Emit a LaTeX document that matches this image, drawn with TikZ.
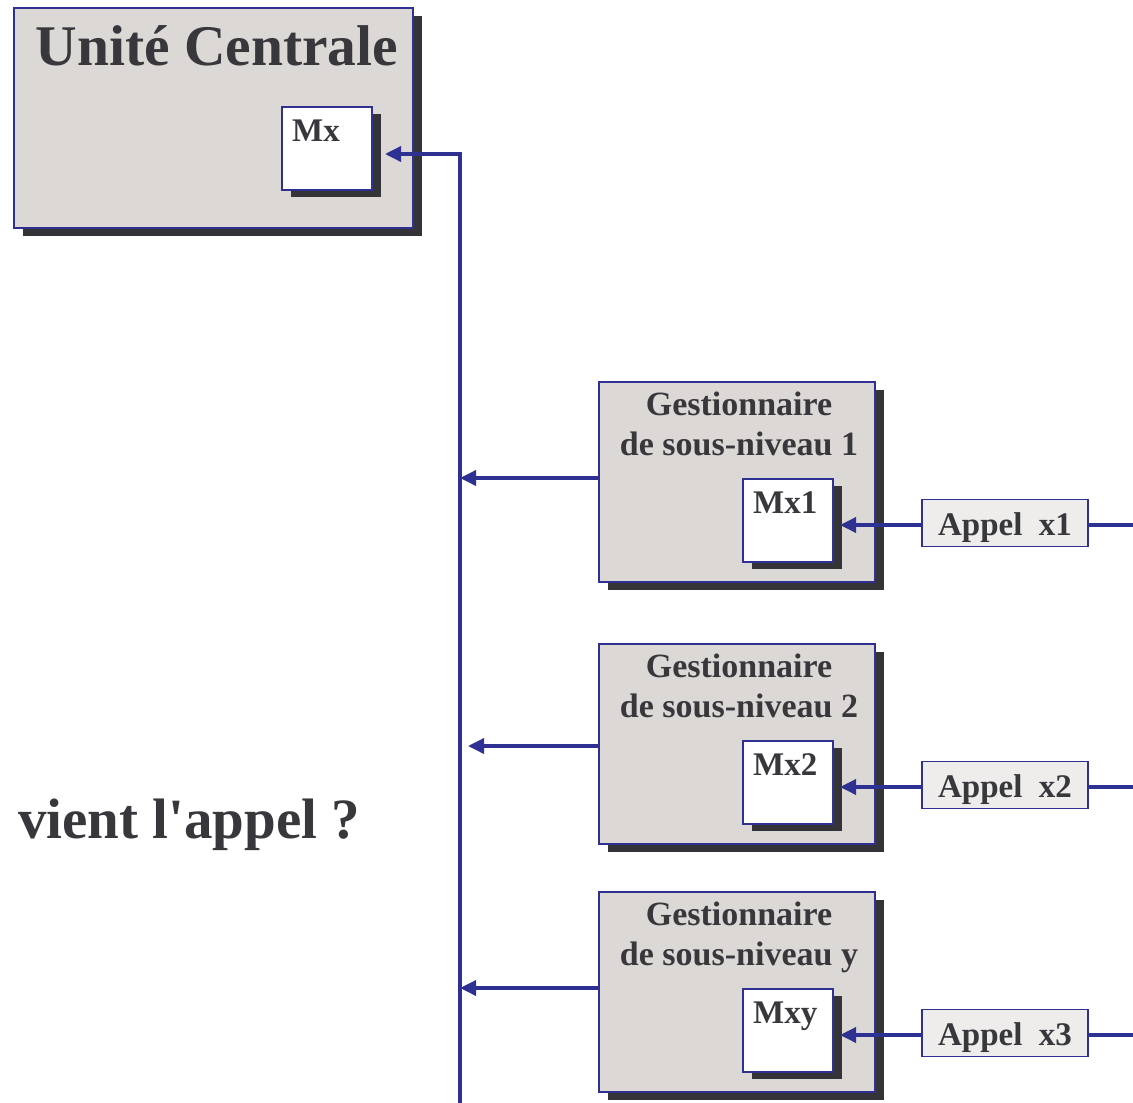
\documentclass[tikz,border=0pt]{standalone}
\usepackage{fontspec}
\setmainfont{Liberation Serif}
\usetikzlibrary{arrows.meta,shadows}
\definecolor{bord}{HTML}{2E3192}
\definecolor{fillg}{HTML}{DCD8D5}
\definecolor{shad}{HTML}{343338}
\definecolor{txt}{HTML}{38373C}
\definecolor{appfill}{HTML}{EEEDEC}
\tikzset{
  shd/.style={drop shadow={shadow xshift=9pt,shadow yshift=-8pt,fill=shad,opacity=1}},
  bigbox/.style={draw=bord,line width=1.5pt,fill=fillg,anchor=north west,inner sep=0pt,shd},
  mbox/.style={draw=bord,line width=1.5pt,fill=white,anchor=north west,inner sep=0pt,
    minimum width=90pt,minimum height=83pt,
    drop shadow={shadow xshift=9pt,shadow yshift=-7pt,fill=shad,opacity=1}},
  mlabel/.style={text=txt,font=\bfseries\fontsize{33}{36}\selectfont,anchor=base west,inner sep=0pt},
  glabel/.style={text=txt,font=\bfseries\fontsize{34}{40}\selectfont,align=center,anchor=north,inner sep=0pt},
  appbox/.style={draw=bord,line width=1.5pt,fill=appfill,minimum width=166pt,minimum height=47pt,
    inner sep=0pt,text=txt,text height=28pt,text depth=3pt,font=\bfseries\fontsize{33}{36}\selectfont},
  conn/.style={draw=bord,line width=3.5pt,-{Triangle[length=16pt,width=15pt]}},
  plain/.style={draw=bord,line width=3.5pt},
}
\begin{document}
\begin{tikzpicture}[x=1pt,y=-1pt]
\useasboundingbox (0,0) rectangle (1133,1103);
% central unit
\node[bigbox,minimum width=399pt,minimum height=220pt] (uc) at (13,7) {};
\node[text=txt,font=\bfseries\fontsize{57.5}{60}\selectfont,anchor=base,inner sep=0pt] (uct) at (217,65) {Unité Centrale};
\node[mbox] (mx) at (281,106) {};
\node[mlabel] (mxl) at (292,141) {Mx};
% bus
\coordinate (bustop) at (460,154);
\coordinate (busbot) at (460,1103);
\coordinate (redge) at (1133,0);
\draw[plain] (bustop) -- (busbot);
\draw[conn] ([xshift=1.75pt]bustop) -- (385,154);
% question
\node[text=txt,font=\bfseries\fontsize{57}{60}\selectfont,anchor=base west,inner sep=0pt] (q) at (18,838) {vient l\textquotesingle appel ?};
% managers
\foreach \i/\y/\lab/\mlab/\app/\ay/\ty in {1/381/1/Mx1/x1/525/478, 2/643/2/Mx2/x2/787/746, 3/891/y/Mxy/x3/1035/988}{
  \node[bigbox,minimum width=276pt,minimum height=200pt] (g\i) at (598,\y) {};
  \node[glabel] (gt\i) at (739,\y+11) {Gestionnaire\\de sous-niveau \lab};
  \node[mbox] (m\i) at (742,\y+97) {};
  \node[mlabel] (ml\i) at (753,\y+132) {\mlab};
  \node[appbox] (a\i) at (1005,\ay-2) {Appel\ \ \app};
  \coordinate (gw\i) at (598,\ty);
  \coordinate (mt\i) at (840,\ay);
  \coordinate (ae\i) at (1087,\ay);
  \coordinate (aw\i) at (921,\ay);
  \draw[plain] (ae\i) -- (ae\i -| redge);
  \draw[conn] (aw\i) -- (mt\i);
}
\draw[conn] (gw1) -- (gw1 -| bustop);
\draw[conn] (gw2) -- ([xshift=8pt]gw2 -| bustop);
\draw[conn] (gw3) -- (gw3 -| bustop);
\end{tikzpicture}
\end{document}
